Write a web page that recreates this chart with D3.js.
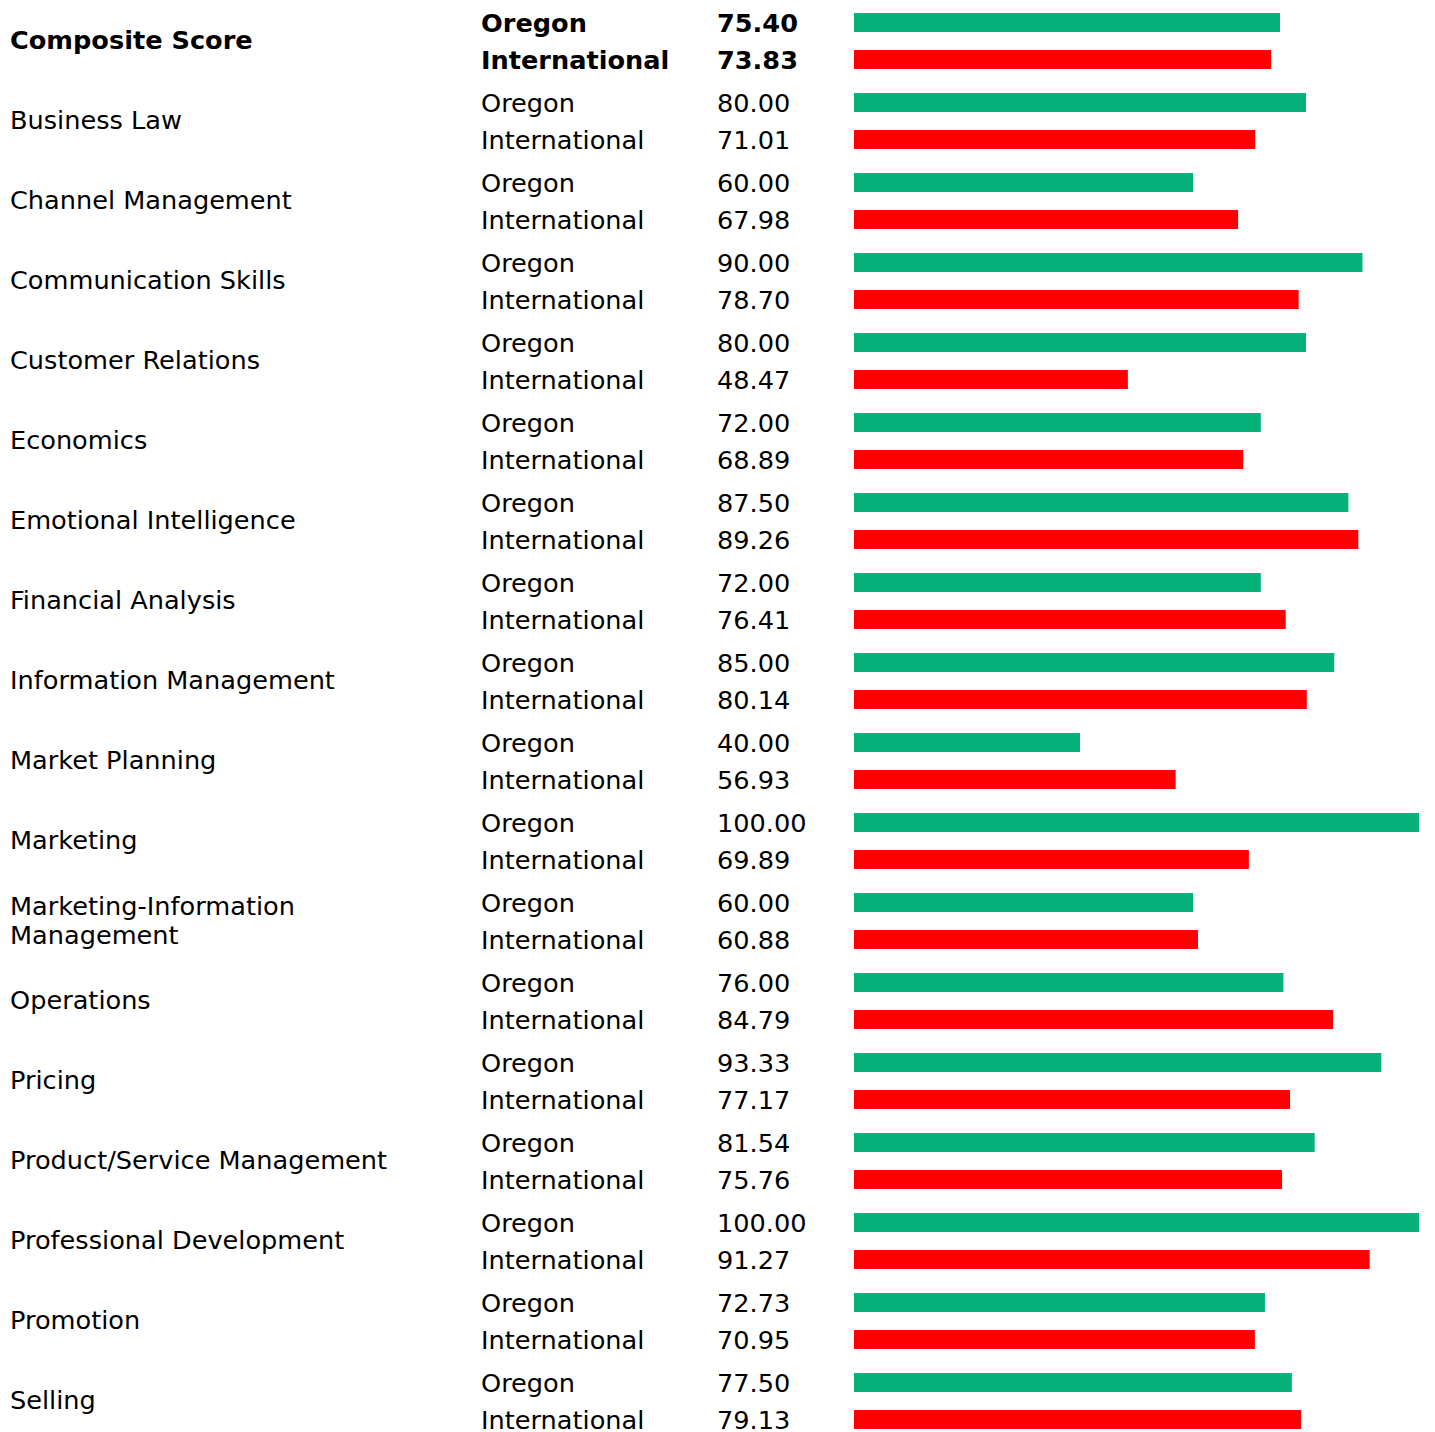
<!DOCTYPE html>
<html>
<head>
<meta charset="utf-8">
<script src="https://cdn.jsdelivr.net/npm/d3@7"></script>
<style>
html,body{margin:0;padding:0;background:#fff;}
svg{display:block;font-family:"DejaVu Sans",sans-serif;}
</style>
</head>
<body>
<svg id="chart" width="1435" height="1432"></svg>
<script>
const categories = ["Composite Score","Business Law","Channel Management","Communication Skills","Customer Relations","Economics","Emotional Intelligence","Financial Analysis","Information Management","Market Planning","Marketing","Marketing-Information Management","Operations","Pricing","Product/Service Management","Professional Development","Promotion","Selling"];
const seriesNames = ["Oregon","International"];
const oregon = [75.40,80.00,60.00,90.00,80.00,72.00,87.50,72.00,85.00,40.00,100.00,60.00,76.00,93.33,81.54,100.00,72.73,77.50];
const international = [73.83,71.01,67.98,78.70,48.47,68.89,89.26,76.41,80.14,56.93,69.89,60.88,84.79,77.17,75.76,91.27,70.95,79.13];
const colors = ["#06b27a","#ff0000"];

const svg = d3.select("#chart");
const rowH = 80;
const fs = 25.6;

const y = d3.scaleBand().domain(categories).range([0, categories.length*rowH]).paddingInner(0).paddingOuter(0);
const ySub = d3.scaleBand().domain(seriesNames).range([13, 69]).paddingInner(18/37).paddingOuter(0);
const x = d3.scaleLinear().domain([0,100]).range([854,1419]);

const rows = categories.map((c,i)=>({cat:c, idx:i, vals:[oregon[i], international[i]]}));

const g = svg.selectAll("g.row").data(rows).enter().append("g")
  .attr("class","row")
  .attr("transform", d=>`translate(0,${y(d.cat)})`);

// category labels with wrapping
g.each(function(d){
  const sel = d3.select(this);
  const t = sel.append("text")
    .attr("x",10)
    .attr("font-size",fs)
    .attr("font-weight", d.idx===0 ? "bold" : "normal")
    .attr("fill","#000");
  const words = d.cat.split(" ");
  let lines = [];
  let line = [];
  const tmp = t.append("tspan");
  words.forEach(w=>{
    line.push(w);
    tmp.text(line.join(" "));
    if (tmp.node().getComputedTextLength() > 450 && line.length>1){
      line.pop();
      lines.push(line.join(" "));
      line=[w];
    }
  });
  lines.push(line.join(" "));
  tmp.remove();
  const lh = 29.5;
  const base = rowH/2 + 9.3 - (lines.length-1)*lh/2;
  lines.forEach((l,k)=>{
    t.append("tspan").attr("x",10).attr("y", base + k*lh).text(l);
  });
});

const sub = g.selectAll("g.sub").data(d=>d.vals.map((v,k)=>({v, k, name:seriesNames[k], bold:d.idx===0})))
  .enter().append("g").attr("class","sub");

sub.append("text")
  .attr("x",481)
  .attr("y", d=>ySub(d.name)+ySub.bandwidth()/2+9)
  .attr("font-size",fs)
  .attr("font-weight", d=>d.bold?"bold":"normal")
  .text(d=>d.name);

sub.append("text")
  .attr("x",717)
  .attr("y", d=>ySub(d.name)+ySub.bandwidth()/2+9)
  .attr("font-size",fs)
  .attr("font-weight", d=>d.bold?"bold":"normal")
  .text(d=>d3.format(".2f")(d.v));

sub.append("rect")
  .attr("x", x(0))
  .attr("y", d=>ySub(d.name))
  .attr("width", d=>x(d.v)-x(0))
  .attr("height", ySub.bandwidth())
  .attr("fill", d=>colors[d.k]);
</script>
</body>
</html>
